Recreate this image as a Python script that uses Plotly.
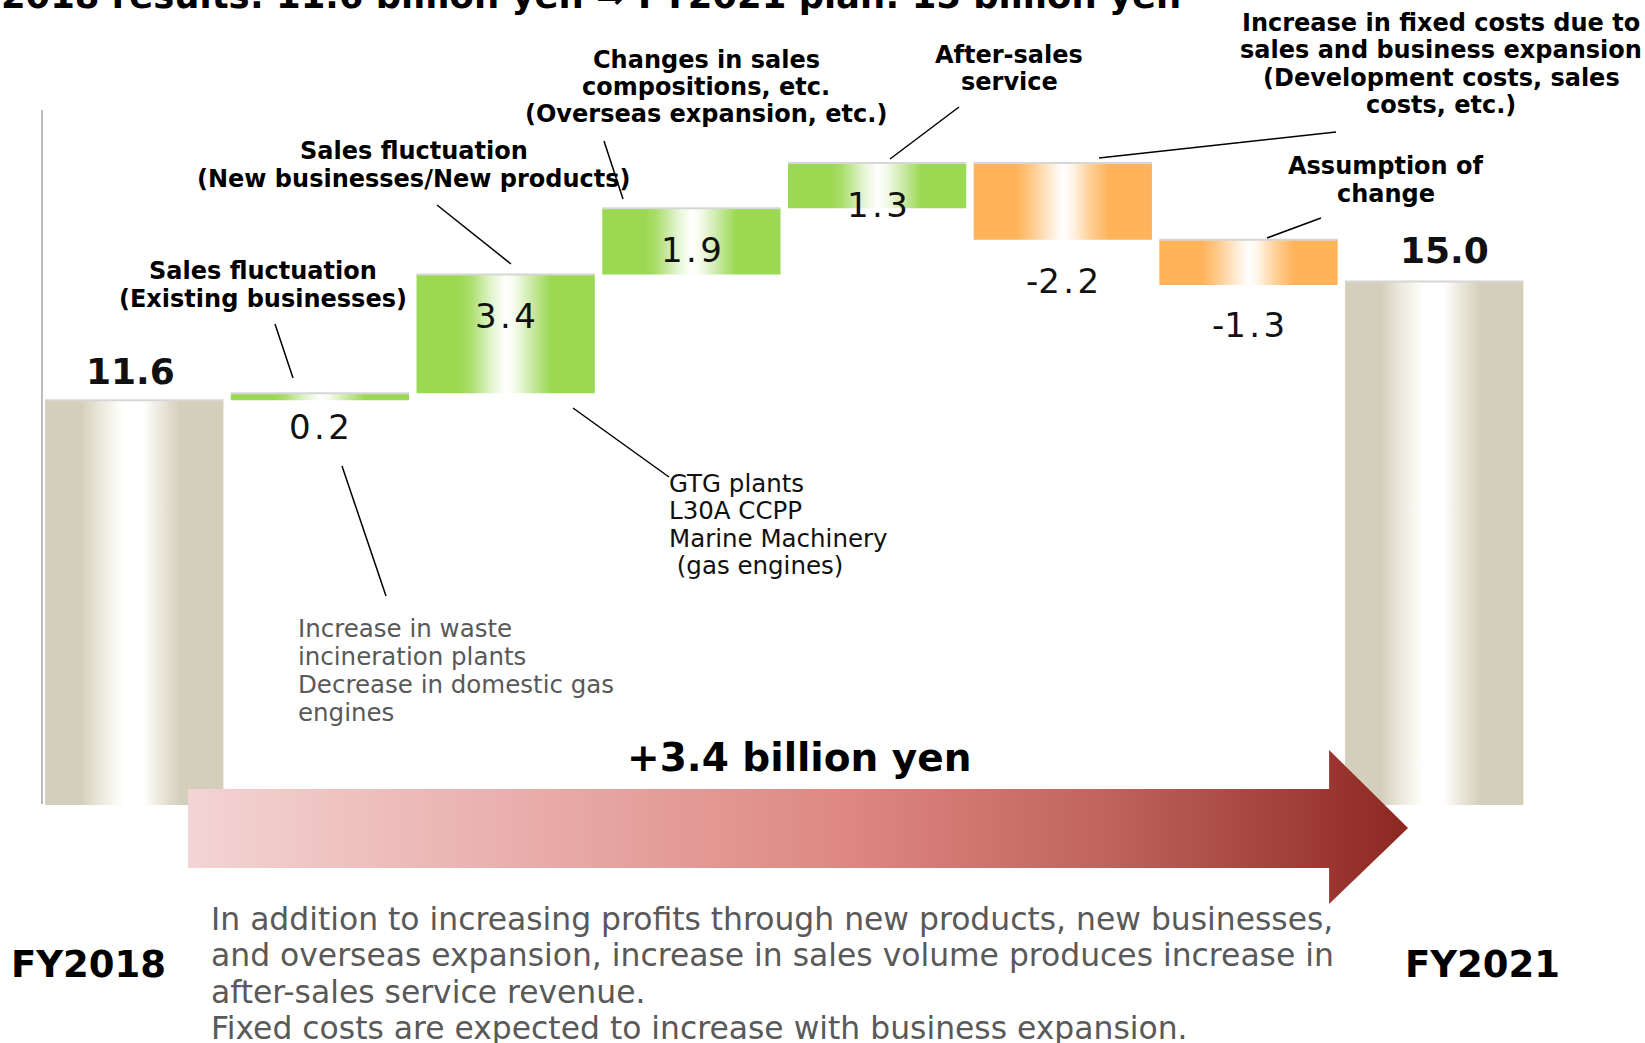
import plotly.graph_objects as go

W, H = 1645, 1043

# ---- data ----
categories = [
    "FY2018",
    "Sales fluctuation (Existing businesses)",
    "Sales fluctuation (New businesses/New products)",
    "Changes in sales compositions, etc.",
    "After-sales service",
    "Increase in fixed costs",
    "Assumption of change",
    "FY2021",
]
values = [11.6, 0.2, 3.4, 1.9, 1.3, -2.2, -1.3, 15.0]
is_total = [True, False, False, False, False, False, False, True]

# ---- axis calibration (whole page is the plot area) ----
X_RANGE = [-0.723, 8.135]
Y_RANGE = [-6.82, 23.07]
BAR_W = 0.96

TAN = "#D4CFBB"
GREEN = "#9BD952"
ORANGE = "#FFB35A"

tan_scale = [[0, TAN], [0.2, TAN], [0.3, "#E9E6DA"], [0.4, "#FAFAF3"], [0.45, "#FFFFFF"],
             [0.55, "#FFFFFF"], [0.63, "#EEEBE1"], [0.76, TAN], [1, TAN]]
green_scale = [[0, GREEN], [0.24, GREEN], [0.3, "#A9DD69"], [0.42, "#E2F4CF"], [0.5, "#FFFFFF"],
               [0.55, "#F5FBEC"], [0.66, "#C4E79B"], [0.75, GREEN], [1, GREEN]]
orange_scale = [[0, ORANGE], [0.24, ORANGE], [0.32, "#FFC887"], [0.43, "#FFEBD3"], [0.5, "#FFFFFF"],
                [0.55, "#FFF6EA"], [0.66, "#FFCD92"], [0.76, ORANGE], [1, ORANGE]]

fig = go.Figure()

# waterfall geometry
bases, tops = [], []
running = 0.0
for v, tot in zip(values, is_total):
    if tot:
        bases.append(0.0)
        tops.append(v)
        running = v
    else:
        bases.append(running)
        tops.append(running + v)
        running += v

edge_x, edge_y = [], []
for i, (b, t) in enumerate(zip(bases, tops)):
    x0, x1 = i - BAR_W / 2, i + BAR_W / 2
    lo, hi = min(b, t), max(b, t)
    if is_total[i]:
        scale = tan_scale
    elif values[i] >= 0:
        scale = green_scale
    else:
        scale = orange_scale
    fig.add_trace(go.Scatter(
        x=[x0, x1, x1, x0, x0],
        y=[lo, lo, hi, hi, lo],
        mode="lines",
        line=dict(width=0),
        fill="toself",
        fillgradient=dict(type="horizontal", colorscale=scale),
        hoverinfo="text",
        text=categories[i],
        showlegend=False,
    ))
    edge_x += [x0, x1, None]
    edge_y += [hi, hi, None]

# thin light edge on bar tops
fig.add_trace(go.Scatter(x=edge_x, y=edge_y, mode="lines",
                         line=dict(color="#D6D6D6", width=2),
                         hoverinfo="skip", showlegend=False))

# big gradient arrow FY2018 -> FY2021
ax = [0.289, 6.434, 6.434, 6.859, 6.434, 6.434, 0.289, 0.289]
ay = [0.458, 0.458, 1.576, -0.659, -2.837, -1.805, -1.805, 0.458]
fig.add_trace(go.Scatter(
    x=ax, y=ay, mode="lines", line=dict(width=0), fill="toself",
    fillgradient=dict(type="horizontal", colorscale=[
        [0, "#F3D4D4"], [0.3, "#E8AAA7"], [0.55, "#DD8680"], [0.75, "#C0645D"],
        [0.9, "#A2403A"], [1, "#8C2620"]]),
    hoverinfo="skip", showlegend=False,
))

# ---- value labels ----
label_pos = [("top", 29, -4), ("bottom", -27, 0), ("mid", 18, 0), ("mid", -9, 0),
             ("mid", -19, 0), ("bottom", -41, 0), ("bottom", -40, 0), ("top", 31, 10)]
for i, (v, (where, shift, xs)) in enumerate(zip(values, label_pos)):
    lo, hi = min(bases[i], tops[i]), max(bases[i], tops[i])
    yv = {"top": hi, "bottom": lo, "mid": (lo + hi) / 2}[where]
    lab = f"{v:.1f}"
    if is_total[i]:
        font = dict(family="DejaVu Sans", size=36, color="#111111", weight="bold")
    else:
        lab = lab.replace(".", "\u200a.\u200a")
        font = dict(family="DejaVu Sans", size=34, color="#111111")
    fig.add_annotation(x=i, y=yv, xref="x", yref="y", text=lab, showarrow=False,
                       yshift=shift, xshift=xs, xanchor="center", yanchor="middle",
                       font=font)


def px(x):
    return x / W


def py(y):
    return 1 - y / H


def add_lines(lines, x, y0, dy, size, color="#000000", bold=False, anchor="center",
              family="DejaVu Sans"):
    for k, line in enumerate(lines):
        fig.add_annotation(
            x=px(x), y=py(y0 + k * dy), xref="paper", yref="paper", text=line,
            showarrow=False, xanchor=anchor, yanchor="middle",
            font=dict(family=family, size=size, color=color,
                      weight="bold" if bold else "normal"),
        )


# title (cropped at top of the slide)
add_lines(["2018 results: 11.6 billion yen ⇒ FY2021 plan: 15 billion yen"],
          -1, -4, 0, 35.4, bold=True, anchor="left")

# category callouts
add_lines(["Sales fluctuation", "(Existing businesses)"], 263, 271, 28, 24, bold=True)
add_lines(["Sales fluctuation", "(New businesses/New products)"], 414, 151, 28, 24, bold=True)
add_lines(["Changes in sales", "compositions, etc.", "(Overseas expansion, etc.)"],
          706, 60, 27, 24, bold=True)
add_lines(["After-sales", "service"], 1009, 55, 27, 24, bold=True)
add_lines(["Increase in fixed costs due to", "sales and business expansion",
           "(Development costs, sales", "costs, etc.)"], 1441, 23, 27.5, 24, bold=True)
add_lines(["Assumption of", "change"], 1386, 166, 28, 24, bold=True)

# detail notes
add_lines(["Increase in waste", "incineration plants", "Decrease in domestic gas", "engines"],
          296, 628, 28, 24.5, color="#595959", anchor="left")
add_lines(["GTG plants", "L30A CCPP", "Marine Machinery", " (gas engines)"],
          667, 483, 27.5, 24.5, color="#111111", anchor="left")

add_lines(["+3.4 billion yen"], 799, 757, 0, 39, bold=True)
add_lines(["FY2018"], 9, 964, 0, 37, bold=True, anchor="left")
add_lines(["FY2021"], 1482, 964, 0, 37, bold=True)
add_lines(["In addition to increasing profits through new products, new businesses,",
           "and overseas expansion, increase in sales volume produces increase in",
           "after-sales service revenue.",
           "Fixed costs are expected to increase with business expansion."],
          209, 919, 36.3, 31.4, color="#595959", anchor="left")

# leader lines
leaders = [
    (275, 324, 293, 378), (342, 466, 386, 596), (437, 205, 511, 264),
    (573, 408, 669, 477), (604, 141, 623, 199), (959, 107, 890, 159),
    (1336, 132, 1099, 158), (1321, 218, 1267, 238),
]
for x0, y0, x1, y1 in leaders:
    fig.add_shape(type="line", xref="paper", yref="paper",
                  x0=px(x0), y0=py(y0), x1=px(x1), y1=py(y1),
                  line=dict(color="#000000", width=1.5))

# left axis line
fig.add_shape(type="line", xref="paper", yref="paper",
              x0=px(42), y0=py(110), x1=px(42), y1=py(804),
              line=dict(color="#A6A6A6", width=1.5))

fig.update_layout(
    width=W, height=H, autosize=False,
    margin=dict(l=0, r=0, t=0, b=0),
    paper_bgcolor="white", plot_bgcolor="white",
    xaxis=dict(range=X_RANGE, visible=False, fixedrange=True),
    yaxis=dict(range=Y_RANGE, visible=False, fixedrange=True),
    showlegend=False,
)

fig.write_html("out.html", config={"displayModeBar": False},
               post_script="document.body.style.margin='0';")
